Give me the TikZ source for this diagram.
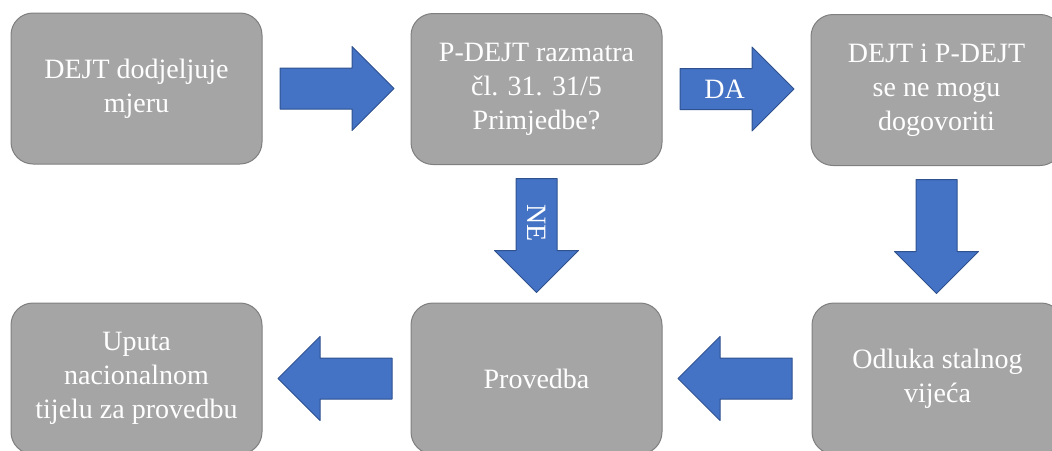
\documentclass[tikz,border=0pt]{standalone}
\usepackage{fontspec}
\setmainfont{Liberation Serif}
\usetikzlibrary{shapes.arrows}
\definecolor{boxgray}{HTML}{A5A5A5}
\definecolor{boxline}{HTML}{7F7F7F}
\definecolor{arrowblue}{HTML}{4472C4}
\definecolor{arrowline}{HTML}{2F528F}
\begin{document}
\begin{tikzpicture}[x=0.75pt, y=-0.75pt, line join=round,
    box/.style={draw=boxline, fill=boxgray, line width=0.75pt, rounded corners=16.5pt,
        minimum width=188.25pt, minimum height=113.25pt, inner sep=0pt,
        align=center, text=white, font=\fontsize{21}{25.5}\selectfont},
    blockarrow/.style={single arrow, draw=arrowline, fill=arrowblue, line width=0.75pt,
        minimum height=85.5pt, minimum width=62.25pt, single arrow head extend=16.125pt,
        inner xsep=0pt, inner ysep=15pt, anchor=tail},
    downarrow/.style={blockarrow, shape border rotate=270, inner xsep=15pt, inner ysep=0pt},
    leftarrow/.style={blockarrow, shape border rotate=180},
    arrowtext/.style={text=white, inner sep=0pt, font=\fontsize{21}{25.5}\selectfont}]
    \useasboundingbox (0,0) rectangle (1052,450);
    \clip (0,0) rectangle (1052,450);
    % top row
    \node[box] (dodjela) at (136.5,88.5) {DEJT dodjeljuje\\mjeru};
    \node[box] (razmatra) at (536.5,89) {P-DEJT razmatra\\čl. 31. 31/5\\Primjedbe?};
    \node[box] (nesuglasje) at (936.5,90) {DEJT i P-DEJT\\se ne mogu\\dogovoriti};
    % bottom row
    \node[box] (uputa) at (136.5,378.5) {Uputa\\nacionalnom\\tijelu za provedbu};
    \node[box] (provedba) at (536.5,378.5) {Provedba};
    \node[box] (odluka) at (937.5,378.5) {Odluka stalnog\\vijeća};
    % block arrows
    \node[blockarrow] (a1) at ([xshift=12.75pt]dodjela.east) {};
    \node[blockarrow] (a2) at ([xshift=12.75pt]razmatra.east) {};
    \node[downarrow] (a3) at ([yshift=-9.75pt]razmatra.south) {};
    \node[downarrow] (a4) at ([yshift=-9.75pt]nesuglasje.south) {};
    \node[leftarrow] (a5) at ([xshift=-14.25pt]odluka.west) {};
    \node[leftarrow] (a6) at ([xshift=-13.5pt]provedba.west) {};
    \node[arrowtext] (da) at ([xshift=33.75pt]a2.tail) {DA};
    \node[arrowtext, rotate=-90] (ne) at ([yshift=-33.75pt]a3.tail) {NE};
\end{tikzpicture}
\end{document}
